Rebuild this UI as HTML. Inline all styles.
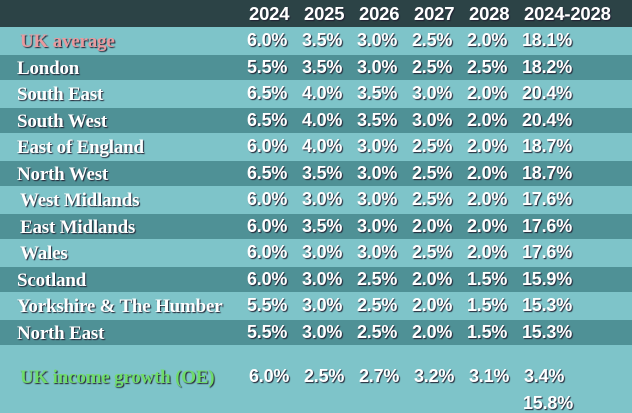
<!DOCTYPE html>
<html><head><meta charset="utf-8"><style>
body{margin:0;width:632px;height:412px;overflow:hidden;background:#7ec4c9;position:relative;font-family:"Liberation Sans",sans-serif;}
.r{position:absolute;left:0;width:632px;height:26px}
.d{background:#4f9196}
.l{background:#7ec4c9}
.t{position:absolute;color:#fff;font-weight:bold;font-size:18px;line-height:20px;text-shadow:1px 1px 1px #223;white-space:nowrap;letter-spacing:-0.2px}
.lab{font-family:"Liberation Serif",serif;font-size:19px}
</style></head><body>
<div class="r" style="top:0;height:27px;background:#2c4346"></div>
<div id="rows"></div>
<script>
var cols=[247,302,357,412,467,522];
var hdr=["2024","2025","2026","2027","2028","2024-2028"];
var h='';
hdr.forEach(function(x,i){h+='<div class="t" style="top:4px;left:'+(cols[i]+2)+'px;font-size:18.5px">'+x+'</div>';});
var data=[
["UK average","6.0%","3.5%","3.0%","2.5%","2.0%","18.1%"],
["London","5.5%","3.5%","3.0%","2.5%","2.5%","18.2%"],
["South East","6.5%","4.0%","3.5%","3.0%","2.0%","20.4%"],
["South West","6.5%","4.0%","3.5%","3.0%","2.0%","20.4%"],
["East of England","6.0%","4.0%","3.0%","2.5%","2.0%","18.7%"],
["North West","6.5%","3.5%","3.0%","2.5%","2.0%","18.7%"],
["West Midlands","6.0%","3.0%","3.0%","2.5%","2.0%","17.6%"],
["East Midlands","6.0%","3.5%","3.0%","2.0%","2.0%","17.6%"],
["Wales","6.0%","3.0%","3.0%","2.5%","2.0%","17.6%"],
["Scotland","6.0%","3.0%","2.5%","2.0%","1.5%","15.9%"],
["Yorkshire & The Humber","5.5%","3.0%","2.5%","2.0%","1.5%","15.3%"],
["North East","5.5%","3.0%","2.5%","2.0%","1.5%","15.3%"]];
data.forEach(function(r,i){
 var top=28+i*26.5;
 h+='<div class="r '+(i%2?'d':'l')+'" style="top:'+top+'px;height:25px"></div>';
 var ty=top+2;
 var lx=(i==0)?20:(i==6||i==7||i==8)?20:17;
 h+='<div class="t lab" style="top:'+(ty+2)+'px;left:'+lx+'px;'+(i==0?'color:#e89a9e':'')+'">'+r[0].replace('&','&amp;')+'</div>';
 for(var j=1;j<7;j++)h+='<div class="t" style="top:'+ty+'px;left:'+cols[j-1]+'px">'+r[j]+'</div>';
});
var g=["6.0%","2.5%","2.7%","3.2%","3.1%","3.4%"];
h+='<div class="t lab" style="top:368px;left:20px;color:#6fdc6a">UK income growth (OE)</div>';
g.forEach(function(x,i){h+='<div class="t" style="top:366px;left:'+(cols[i]+2)+'px">'+x+'</div>';});
h+='<div class="t" style="top:393px;left:523px">15.8%</div>';
document.getElementById('rows').innerHTML=h;
</script>
</body></html>
